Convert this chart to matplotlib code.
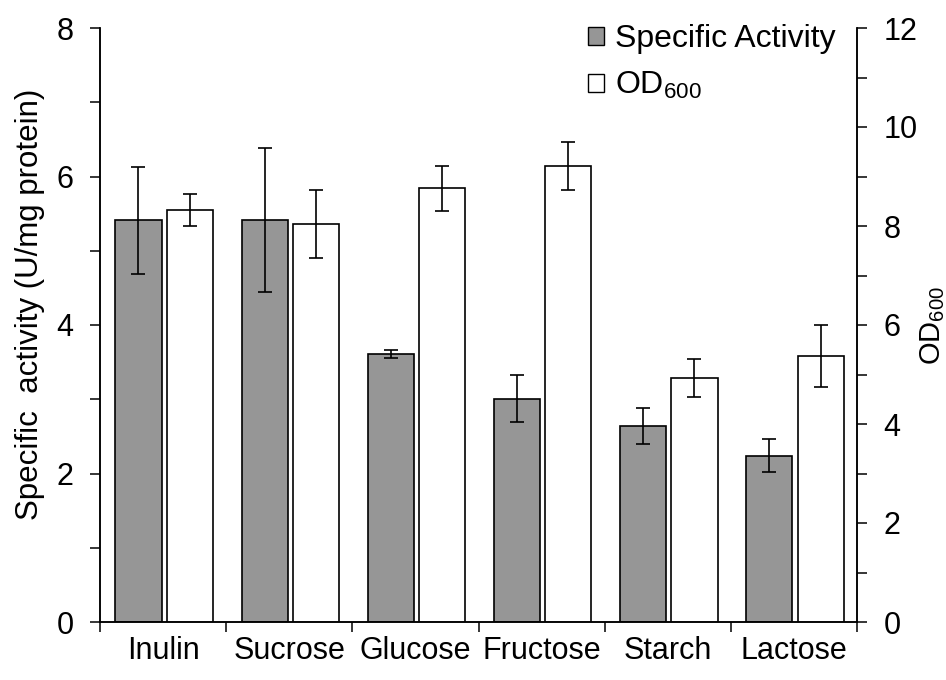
import matplotlib
matplotlib.use("Agg")
import matplotlib.pyplot as plt
import numpy as np
from matplotlib.ticker import MultipleLocator, FixedLocator, NullFormatter
from matplotlib.patches import Patch

plt.rcParams['font.family'] = ['Liberation Sans', 'DejaVu Sans']
plt.rcParams['mathtext.fontset'] = 'custom'
plt.rcParams['mathtext.rm'] = 'Liberation Sans'
plt.rcParams['mathtext.it'] = 'Liberation Sans:italic'

categories = ["Inulin", "Sucrose", "Glucose", "Fructose", "Starch", "Lactose"]
activity = [5.41, 5.41, 3.61, 3.01, 2.64, 2.24]
activity_err = [0.72, 0.97, 0.055, 0.31, 0.245, 0.22]
od600 = [8.32, 8.04, 8.76, 9.21, 4.93, 5.38]
od600_err = [0.33, 0.69, 0.45, 0.49, 0.39, 0.63]

fig = plt.figure(figsize=(9.46, 6.8), dpi=100)
ax = fig.add_axes([100/946, 58/680, 757/946, 594/680])
ax2 = ax.twinx()

x = np.arange(len(categories))
w = 0.365
lw = 1.2
ax.bar(x + 0.305, activity, w, color='#969696', edgecolor='black', linewidth=lw, zorder=2)
ax.errorbar(x + 0.305, activity, yerr=activity_err, fmt='none', ecolor='black',
            elinewidth=lw, capsize=5, capthick=lw, zorder=3)
ax2.bar(x + 0.712, od600, w, color='white', edgecolor='black', linewidth=lw, zorder=2)
ax2.errorbar(x + 0.712, od600, yerr=od600_err, fmt='none', ecolor='black',
             elinewidth=lw, capsize=5, capthick=lw, zorder=3)

ax.set_xlim(0, len(categories))
ax.set_ylim(0, 8)
ax2.set_ylim(0, 12)

ax.xaxis.set_major_locator(FixedLocator(np.arange(len(categories) + 1)))
ax.xaxis.set_major_formatter(NullFormatter())
ax.xaxis.set_minor_locator(FixedLocator(x + 0.5))
ax.set_xticklabels(categories, minor=True)
ax.tick_params(axis='x', which='major', direction='out', length=7, width=1.1)
ax.tick_params(axis='x', which='minor', length=0, pad=10, labelsize=22)

ax.yaxis.set_major_locator(MultipleLocator(2))
ax.yaxis.set_minor_locator(MultipleLocator(1))
ax.tick_params(axis='y', which='both', direction='out', length=7, width=1.1, labelsize=22, pad=12)
ax2.yaxis.set_major_locator(MultipleLocator(2))
ax2.yaxis.set_minor_locator(MultipleLocator(1))
ax2.tick_params(axis='y', which='both', direction='out', length=7, width=1.1, labelsize=22, pad=12)

for a in (ax, ax2):
    a.spines['top'].set_visible(False)
    for s in ('left', 'right', 'bottom'):
        a.spines[s].set_linewidth(1.1)

ax.set_ylabel('Specific  activity (U/mg protein)', fontsize=22.5, labelpad=8, y=0.535)
ax2.set_ylabel(r'OD$_{\mathrm{600}}$', fontsize=21)
ax2.yaxis.set_label_coords(1.081, 0.5)

handles = [Patch(facecolor='#969696', edgecolor='black', linewidth=1.0),
           Patch(facecolor='white', edgecolor='black', linewidth=1.0)]
ax.legend(handles, ['Specific Activity', r'OD$_{\mathrm{600}}$'], loc='upper right',
          bbox_to_anchor=(1.01, 1.055), frameon=False, fontsize=23,
          handlelength=0.5, handleheight=0.5, handletextpad=0.35, labelspacing=0.5)

fig.savefig('out.png', dpi=100)
